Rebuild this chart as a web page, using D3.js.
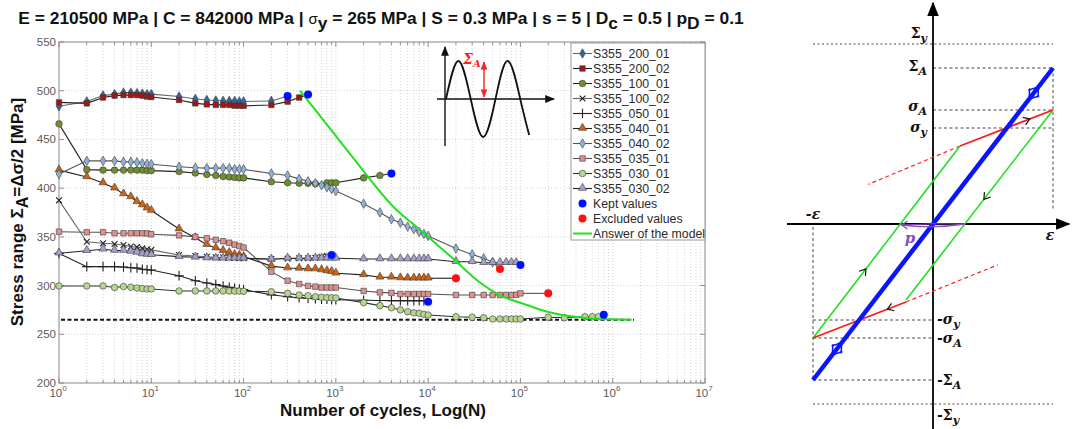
<!DOCTYPE html>
<html>
<head>
<meta charset="utf-8">
<script src="https://cdn.jsdelivr.net/npm/d3@7"></script>
<style>
  body { margin: 0; background: #fff; }
  svg { display: block; }
</style>
</head>
<body>
<div id="chart"></div>
<script>
const S355_200_01 = [[1,484],[2,489],[3,495],[4,496.5],[5,498],[6,498],[7,497.5],[8,497],[9,496.5],[10,496.5],[20,494],[30,491.5],[40,490.5],[50,490],[60,489.5],[70,489.5],[80,489.5],[90,489],[100,489],[200,489.5]];
const S355_200_02 = [[1,488],[2,487],[3,493],[4,495],[5,495.5],[6,495.5],[7,495.5],[8,495],[9,494],[10,493.5],[20,490.5],[30,487],[40,486],[50,485.5],[60,485.5],[70,485.5],[80,484.7],[90,484.7],[100,484.4],[200,485.4],[300,488.8],[400,493]];
const S355_100_01 = [[1,466],[2,419],[3,418.5],[4,418.5],[5,418.5],[6,418.5],[7,418.5],[8,418.5],[9,418],[10,418],[20,417],[30,415.5],[40,414],[50,413],[60,412],[70,411.5],[80,411],[90,410.5],[100,410.5],[200,406.5],[300,405.5],[400,405],[500,405],[600,404.5],[800,405.5],[900,405.5],[1000,405.5],[2000,410.5],[3000,413]];
const S355_100_02 = [[1,387.5],[2,345],[3,343.5],[4,342.7],[5,341.7],[6,340],[7,339.5],[8,338.3],[9,337.3],[10,336.6],[20,331.4],[30,330.4],[40,329.5],[50,329],[60,329],[70,328.5],[80,328.5],[90,328],[100,328],[200,327.3],[300,327.5],[400,328],[500,328],[600,328.5],[700,329.5],[800,330.5]];
const S355_050_01 = [[1,333],[2,319.4],[3,319.4],[4,319.4],[5,319],[6,318.3],[7,318],[8,316.7],[9,316.3],[10,316],[20,310],[30,305],[40,302.7],[50,301],[60,299.6],[70,298.3],[80,297.2],[90,296.5],[100,295.8],[200,290.5],[300,288.5],[400,287.5],[500,287],[600,286.5],[700,286],[800,286],[900,285.5],[1000,285.5],[2000,285],[3000,284.7],[4000,284.5],[5000,284.5],[6000,284.5],[7000,284.5],[8000,284.5],[9000,284.5]];
const S355_040_01 = [[1,418.5],[2,411.5],[3,405.3],[4,400],[5,394],[6,391],[7,386],[8,382.7],[9,379.5],[10,377],[20,358],[30,349],[40,342],[50,338.5],[60,335.8],[70,333.8],[80,331.7],[90,331],[100,329.7],[200,320],[300,318],[400,317.7],[500,317],[600,317],[700,316],[800,315],[900,314.3],[1000,312.6],[2000,311],[3000,308.5],[4000,308.5],[5000,307.8],[6000,307.5],[7000,307.5],[8000,307.5],[9000,307.5],[10000,307.5]];
const S355_040_02 = [[1,414.5],[2,428],[3,428],[4,428],[5,427],[6,427],[7,426.5],[8,425.5],[9,425],[10,424.5],[20,422],[30,421],[40,420.5],[50,420.5],[60,420.5],[70,420.5],[80,419.5],[90,419.5],[100,419.3],[200,415],[300,413],[400,409.5],[500,407],[600,405],[700,403],[800,401],[900,399],[1000,397],[2000,384],[3000,375],[4000,368],[5000,364.5],[6000,360.5],[7000,358],[8000,355],[9000,353],[10000,351],[20000,338],[30000,332],[40000,328],[50000,324]];
const S355_035_01 = [[1,355.3],[2,354.7],[3,354.7],[4,353.7],[5,353.7],[6,353.7],[7,353.7],[8,353.7],[9,353.5],[10,352.7],[20,351.5],[30,350],[40,348.5],[50,347],[60,345.5],[70,344],[80,342],[90,340.5],[100,339],[200,314.3],[300,305],[400,301.6],[500,299.6],[600,298.9],[700,298],[800,298],[900,298],[1000,298],[2000,294.5],[3000,293],[4000,292.5],[5000,291.4],[6000,291.4],[7000,291.4],[8000,291.4],[9000,291.4],[10000,291.4],[20000,290.3],[30000,290.3],[40000,290.3],[50000,290.3],[60000,290.3],[70000,290.3],[80000,290.3],[90000,290.5],[100000,292]];
const S355_030_01 = [[1,299.6],[2,299.6],[3,299.6],[4,298],[5,299],[6,298.3],[7,297.5],[8,297],[9,296.5],[10,296.5],[20,294.5],[30,294.5],[40,294.5],[50,294.5],[60,294.5],[70,294.5],[80,294.3],[90,294.3],[100,294.2],[200,293.7],[300,292],[400,290.3],[500,289.6],[600,288.5],[700,288],[800,287.5],[900,287.5],[1000,287.3],[2000,282.5],[3000,279.4],[4000,277.3],[5000,275],[6000,273.2],[7000,272],[8000,271.5],[9000,270.5],[10000,269.8],[20000,268],[30000,267.5],[40000,267],[50000,265.7],[60000,265.7],[70000,265.7],[80000,265.7],[90000,265.7],[100000,265.7],[200000,267.5],[300000,267],[500000,268],[600000,268],[700000,268]];
const S355_030_02 = [[1,333.2],[2,335.8],[3,337.3],[4,336],[5,336],[6,335],[7,334],[8,332.4],[9,332],[10,331.7],[20,329.7],[30,329],[40,328.3],[50,328],[60,328],[70,328],[80,328],[90,328],[100,328],[200,327],[300,328],[400,328],[500,328],[600,328],[700,328],[800,328],[900,328],[1000,328],[2000,327.3],[3000,327.3],[4000,327.3],[5000,327.3],[6000,327.3],[7000,327.3],[8000,327.3],[9000,327.3],[10000,327.3],[20000,324.5],[30000,324.5],[40000,323.5],[50000,323.5],[60000,323.5],[70000,323.5],[80000,323.5],[90000,323.5]];

const keptValues = [[300,494.5],[500,496],[900,331.4],[4000,415],[10000,283.5],[100000,321],[800000,270]];
const excludedValues = [[20000,307.5],[60000,317],[200000,292]];
const modelAnswer = [[410,500],[850,462],[1600,429],[4500,378],[8000,358],[12500,342],[19000,327],[35500,304],[57500,291],[123000,279.5],[155000,276],[275000,270],[427000,267.5],[646000,266],[1600000,265]];
const sigmaYield = 265;
const modelEnd = 1700000;

const yTicks = [200, 250, 300, 350, 400, 450, 500, 550];
const xDecades = [0, 1, 2, 3, 4, 5, 6, 7];

// hysteresis sketch (strain / stress in sketch units)
const epsMax = 1;
const sketchLevels = { SigY: 1.5, SigA: 1.3, sigA: 0.95, sigY: 0.8 };
const bluePath = [[-1, -1.3], [1, 1.3]];
const loopPath = [[0.225, 0.65], [1, 0.95], [-0.225, -0.633], [-1, -0.95], [0.225, 0.65]];
const redSolid = [[[0.225, 0.65], [1, 0.95]], [[-0.225, -0.65], [-1, -0.95]]];
const redDashed = [[[0.225, 0.65], [-0.54, 0.33]], [[-0.225, -0.65], [0.54, -0.34]]];
const wavePoints = [[0,0],[0.25,1],[0.5,0],[0.75,-1],[1,0],[1.25,1],[1.5,0],[1.68,-0.95]];

// --- styles
const series = [
  { name: "S355_200_01", data: S355_200_01, sym: "diamond", fill: "#2a68a8", line: "#666" },
  { name: "S355_200_02", data: S355_200_02, sym: "square", fill: "#a31515", line: "#222" },
  { name: "S355_100_01", data: S355_100_01, sym: "circle", fill: "#6f8f2f", line: "#222" },
  { name: "S355_100_02", data: S355_100_02, sym: "times", fill: "#222", line: "#666" },
  { name: "S355_050_01", data: S355_050_01, sym: "plus", fill: "#222", line: "#222" },
  { name: "S355_040_01", data: S355_040_01, sym: "triangle", fill: "#d0620f", line: "#222" },
  { name: "S355_040_02", data: S355_040_02, sym: "diamond", fill: "#8fb1d6", line: "#555" },
  { name: "S355_035_01", data: S355_035_01, sym: "square", fill: "#de9090", line: "#555" },
  { name: "S355_030_01", data: S355_030_01, sym: "circle", fill: "#b7d58f", line: "#333" },
  { name: "S355_030_02", data: S355_030_02, sym: "triangle", fill: "#a49fcc", line: "#222" }
];

const symbols = {
  diamond: [d3.symbolDiamond, 26], square: [d3.symbolSquare, 30], circle: [d3.symbolCircle, 34],
  triangle: [d3.symbolTriangle, 28], times: [d3.symbolTimes, 24], plus: [d3.symbolPlus, 32]
};

const W = 1072, H = 429;
const svg = d3.select("#chart").append("svg")
  .attr("width", W).attr("height", H)
  .style("font-family", "'Liberation Sans', Arial, sans-serif");

svg.append("rect").attr("width", W).attr("height", H).attr("fill", "#fff");

const x = d3.scaleLog().domain([1, 1e7]).range([59, 705]);
const y = d3.scaleLinear().domain([200, 550]).range([383, 42]);
const [x0, x1] = x.range(), [y0, y1] = y.range();

// grid
const grid = svg.append("g").attr("stroke", "#c9c9c9").attr("stroke-width", 0.8).attr("stroke-dasharray", "1,2");
const minorVals = [];
xDecades.slice(0, -1).forEach(d => { for (let m = 1; m <= 9; m++) minorVals.push(m * Math.pow(10, d)); });
minorVals.push(1e7);
grid.selectAll(".vx").data(minorVals.slice(1, -1)).join("line")
  .attr("x1", d => x(d)).attr("x2", d => x(d)).attr("y1", y1).attr("y2", y0);
grid.selectAll(".hy").data(yTicks.slice(1, -1)).join("line")
  .attr("x1", x0).attr("x2", x1).attr("y1", d => y(d)).attr("y2", d => y(d));

// ticks (inside, MATLAB style)
const ticks = svg.append("g").attr("stroke", "#777").attr("stroke-width", 0.8);
minorVals.forEach(v => {
  const major = Math.abs(Math.log10(v) - Math.round(Math.log10(v))) < 1e-9;
  const len = major ? 5 : 3;
  ticks.append("line").attr("x1", x(v)).attr("x2", x(v)).attr("y1", y0).attr("y2", y0 - len);
  ticks.append("line").attr("x1", x(v)).attr("x2", x(v)).attr("y1", y1).attr("y2", y1 + len);
});
yTicks.forEach(v => {
  ticks.append("line").attr("x1", x0).attr("x2", x0 + 5).attr("y1", y(v)).attr("y2", y(v));
  ticks.append("line").attr("x1", x1).attr("x2", x1 - 5).attr("y1", y(v)).attr("y2", y(v));
});

svg.append("rect").attr("x", x0).attr("y", y1).attr("width", x1 - x0).attr("height", y0 - y1)
  .attr("fill", "none").attr("stroke", "#888").attr("stroke-width", 1);

// tick labels
svg.append("g").selectAll("text").data(yTicks).join("text")
  .attr("x", x0 - 3).attr("y", d => y(d) + 4).attr("text-anchor", "end")
  .attr("font-size", 11.5).attr("fill", "#5a5a5a").text(d => d);
const xl = svg.append("g").selectAll("text").data(xDecades).join("text")
  .attr("x", d => x(Math.pow(10, d)) - 1).attr("y", 397).attr("text-anchor", "middle")
  .attr("font-size", 11.5).attr("fill", "#5a5a5a");
xl.append("tspan").text("10");
xl.append("tspan").attr("font-size", 8).attr("dy", -6).text(d => d);

// yield line
svg.append("line")
  .attr("x1", x(1) + 2).attr("x2", x(modelEnd)).attr("y1", y(sigmaYield)).attr("y2", y(sigmaYield))
  .attr("stroke", "#111").attr("stroke-width", 2).attr("stroke-dasharray", "4,2.5");

// series
const line = d3.line().x(d => x(d[0])).y(d => y(d[1]));
const sg = svg.append("g");
series.forEach(s => {
  sg.append("path").attr("d", line(s.data)).attr("fill", "none")
    .attr("stroke", s.line).attr("stroke-width", 1.1);
});
function marker(g, s, px, py) {
  const [type, size] = symbols[s.sym];
  const stroke = s.sym === "times" || s.sym === "plus";
  g.append("path").attr("d", d3.symbol().type(type).size(size)())
    .attr("transform", `translate(${px},${py})` + (s.sym === "triangle" ? " translate(0,-0.5)" : ""))
    .attr("fill", stroke ? "none" : s.fill)
    .attr("stroke", stroke ? s.fill : "#3a3a3a")
    .attr("stroke-width", stroke ? 1.1 : 0.6);
}
series.forEach(s => {
  s.data.forEach(d => marker(sg, s, x(d[0]), y(d[1])));
});
// last point of each test joins its kept / excluded dot
const ends = [["S355_200_01", keptValues[0]], ["S355_200_02", keptValues[1]], ["S355_100_02", keptValues[2]],
  ["S355_100_01", keptValues[3]], ["S355_050_01", keptValues[4]], ["S355_030_02", keptValues[5]],
  ["S355_030_01", keptValues[6]], ["S355_040_01", excludedValues[0]], ["S355_040_02", excludedValues[1]],
  ["S355_035_01", excludedValues[2]]];
ends.forEach(([n, p]) => {
  const s = series.find(d => d.name === n);
  const last = s.data[s.data.length - 1];
  sg.insert("path", ":first-child").attr("d", line([last, p])).attr("fill", "none")
    .attr("stroke", s.line).attr("stroke-width", 1.1);
});

// model answer
svg.append("path").attr("d", d3.line().curve(d3.curveMonotoneX).x(d => x(d[0])).y(d => y(d[1]))(modelAnswer))
  .attr("fill", "none").attr("stroke", "#22e022").attr("stroke-width", 2);

svg.append("g").selectAll("circle").data(keptValues).join("circle")
  .attr("cx", d => x(d[0])).attr("cy", d => y(d[1])).attr("r", 4).attr("fill", "#0010ff");
svg.append("g").selectAll("circle").data(excludedValues).join("circle")
  .attr("cx", d => x(d[0])).attr("cy", d => y(d[1])).attr("r", 4).attr("fill", "#ff1010");

// inset sine icon
const inset = svg.append("g");
const ix = d3.scaleLinear().domain([0, 1]).range([446, 495.5]);
const iy = d3.scaleLinear().domain([-1, 1]).range([137, 61]);
svg.append("defs").html(`
  <marker id="ah" viewBox="0 0 10 10" refX="9" refY="5" markerWidth="7" markerHeight="7" orient="auto-start-reverse">
    <path d="M0,1 L10,5 L0,9 z" fill="#111"/></marker>
  <marker id="ahr" viewBox="0 0 10 10" refX="9" refY="5" markerWidth="6" markerHeight="6" orient="auto-start-reverse">
    <path d="M0,1 L10,5 L0,9 z" fill="#ff2020"/></marker>
  <marker id="ahk" viewBox="0 0 10 10" refX="9" refY="5" markerWidth="8" markerHeight="8" orient="auto">
    <path d="M0,1 L10,5 L0,9 z" fill="#000"/></marker>`);
inset.append("line").attr("x1", 445).attr("x2", 445).attr("y1", 146).attr("y2", 47)
  .attr("stroke", "#111").attr("stroke-width", 1.4).attr("marker-end", "url(#ah)");
inset.append("line").attr("x1", 437).attr("x2", 554).attr("y1", iy(0)).attr("y2", iy(0))
  .attr("stroke", "#111").attr("stroke-width", 1.4).attr("marker-end", "url(#ah)");
inset.append("path").attr("d", d3.line().curve(d3.curveNatural).x(d => ix(d[0])).y(d => iy(d[1]))(wavePoints))
  .attr("fill", "none").attr("stroke", "#111").attr("stroke-width", 1.8);
inset.append("line").attr("x1", 484).attr("x2", 484).attr("y1", iy(0) - 2).attr("y2", 62)
  .attr("stroke", "#ff2020").attr("stroke-width", 1.4)
  .attr("marker-start", "url(#ahr)").attr("marker-end", "url(#ahr)");
const sa = inset.append("text").attr("x", 463).attr("y", 64).attr("fill", "#ff2020")
  .attr("font-family", "'DejaVu Serif', serif").attr("font-weight", "bold").attr("font-style", "italic").attr("font-size", 14);
sa.append("tspan").text("Σ");
sa.append("tspan").attr("font-size", 10).attr("dy", 3).text("A");

// legend
const lg = svg.append("g").attr("transform", "translate(571,43)");
lg.append("rect").attr("width", 134).attr("height", 197).attr("fill", "#fff").attr("stroke", "#999");
const entries = series.map(s => ({ label: s.name, s }))
  .concat([{ label: "Kept values", dot: "#0010ff" }, { label: "Excluded values", dot: "#ff1010" },
           { label: "Answer of the model", green: true }]);
entries.forEach((e, i) => {
  const cy = 10.5 + i * 15;
  if (e.s) {
    lg.append("line").attr("x1", 2).attr("x2", 21).attr("y1", cy).attr("y2", cy)
      .attr("stroke", e.s.line).attr("stroke-width", 1.1);
    marker(lg, e.s, 11.5, cy);
  } else if (e.dot) {
    lg.append("circle").attr("cx", 11.5).attr("cy", cy).attr("r", 4).attr("fill", e.dot);
  } else {
    lg.append("line").attr("x1", 2).attr("x2", 21).attr("y1", cy).attr("y2", cy)
      .attr("stroke", "#22e022").attr("stroke-width", 2);
  }
  lg.append("text").attr("x", 22).attr("y", cy + 4.3).attr("font-size", 12.3).attr("fill", "#2a2a2a").text(e.label);
});

// titles
const title = svg.append("text").attr("x", 381).attr("y", 24).attr("text-anchor", "middle")
  .attr("font-weight", "bold").attr("font-size", 17.4).attr("fill", "#111");
[["E = 210500 MPa | C = 842000 MPa | ", 0], ["σ", 0, 15, "normal"], ["y", 5], [" = 265 MPa | S = 0.3 MPa | s = 5 | D", -5],
 ["c", 5], [" = 0.5 | p", -5], ["D", 5], [" = 0.1", -5]].forEach(([t, dy, fs, fw]) => {
  const ts = title.append("tspan").attr("dy", dy).text(t);
  if (fs) ts.attr("font-size", fs);
  if (fw) ts.attr("font-weight", fw);
});

const yl = svg.append("text").attr("transform", "translate(23,212) rotate(-90)").attr("text-anchor", "middle")
  .attr("font-weight", "bold").attr("font-size", 17).attr("fill", "#111");
yl.append("tspan").text("Stress range Σ");
yl.append("tspan").attr("dy", 5).attr("font-size", 16).text("A");
yl.append("tspan").attr("dy", -5).text("=Δσ/2 [MPa]");

svg.append("text").attr("x", 383).attr("y", 416).attr("text-anchor", "middle")
  .attr("font-weight", "bold").attr("font-size", 17).attr("fill", "#111").text("Number of cycles, Log(N)");

// --- hysteresis sketch on the right
const hx = d3.scaleLinear().domain([-epsMax, epsMax]).range([813, 1053]);
const hy = d3.scaleLinear().domain([-1, 1]).range([344, 104]);
const hg = svg.append("g");
const serif = "'DejaVu Serif', 'Liberation Serif', serif";

function dashed(xa, ya, xb, yb, dash) {
  hg.append("line").attr("x1", xa).attr("y1", ya).attr("x2", xb).attr("y2", yb)
    .attr("stroke", "#333").attr("stroke-width", 0.9).attr("stroke-dasharray", dash || "3,2.5");
}
dashed(hx(-1), hy(sketchLevels.SigY), hx(1), hy(sketchLevels.SigY), "2,2.5");
dashed(hx(-1), hy(-sketchLevels.SigY), hx(1), hy(-sketchLevels.SigY), "2,2.5");
[sketchLevels.SigA, sketchLevels.sigA, sketchLevels.sigY].forEach(v => dashed(hx(0), hy(v), hx(1), hy(v)));
[sketchLevels.SigA, sketchLevels.sigA, sketchLevels.sigY].forEach(v => dashed(hx(-1), hy(-v), hx(0), hy(-v)));
dashed(hx(1), hy(sketchLevels.SigA), hx(1), hy(0) - 14);
dashed(hx(-1), hy(0) + 3, hx(-1), hy(-sketchLevels.SigA));

// axes
hg.append("line").attr("x1", 787).attr("x2", 1069).attr("y1", hy(0)).attr("y2", hy(0))
  .attr("stroke", "#000").attr("stroke-width", 1.8).attr("marker-end", "url(#ahk)");
hg.append("line").attr("x1", hx(0)).attr("x2", hx(0)).attr("y1", 429).attr("y2", 3)
  .attr("stroke", "#000").attr("stroke-width", 1.8).attr("marker-end", "url(#ahk)");

const hl = d3.line().x(d => hx(d[0])).y(d => hy(d[1]));
redDashed.forEach(seg => hg.append("path").attr("d", hl(seg)).attr("stroke", "#ff2020")
  .attr("stroke-width", 1.2).attr("stroke-dasharray", "4,3").attr("fill", "none"));
hg.append("path").attr("d", hl([loopPath[1], loopPath[2]])).attr("stroke", "#22e022").attr("stroke-width", 1.6).attr("fill", "none");
hg.append("path").attr("d", hl([loopPath[3], loopPath[4]])).attr("stroke", "#22e022").attr("stroke-width", 1.6).attr("fill", "none");
redSolid.forEach(seg => hg.append("path").attr("d", hl(seg)).attr("stroke", "#ff1a1a")
  .attr("stroke-width", 1.8).attr("fill", "none"));
hg.append("path").attr("d", hl(bluePath)).attr("stroke", "#0a14ff").attr("stroke-width", 4.5).attr("fill", "none");

// plastic strain arrow
const pL = hx(-0.262), pR = hx(0.262), p0 = hy(0);
hg.append("path").attr("d", `M${pR},${p0} Q${(pL + pR) / 2},${p0 + 5} ${pL},${p0 + 1}`)
  .attr("fill", "none").attr("stroke", "#8a4fc0").attr("stroke-width", 1.3);
hg.append("path").attr("d", `M${pR},${p0} Q${(pL + pR) / 2},${p0 - 1} ${pL},${p0 + 1}`)
  .attr("fill", "none").attr("stroke", "#8a4fc0").attr("stroke-width", 1);
hg.append("path").attr("d", `M${pL + 6},${p0 - 3} L${pL},${p0 + 1} L${pL + 6},${p0 + 5}`)
  .attr("fill", "none").attr("stroke", "#8a4fc0").attr("stroke-width", 1.2);

function chevron(a, b, t, color, w, s) {
  const xa = hx(a[0]), ya = hy(a[1]), xb = hx(b[0]), yb = hy(b[1]);
  const px = xa + (xb - xa) * t, py = ya + (yb - ya) * t;
  const ang = Math.atan2(yb - ya, xb - xa) * 180 / Math.PI;
  const k = s || 1;
  hg.append("path").attr("d", `M${-6 * k},${-4 * k} L0,0 L${-6 * k},${4 * k}`)
    .attr("transform", `translate(${px},${py}) rotate(${ang})`)
    .attr("fill", "none").attr("stroke", color).attr("stroke-width", w || 1.2);
}
chevron(redSolid[0][0], redSolid[0][1], 0.75, "#111");
chevron(loopPath[1], loopPath[2], 0.47, "#111");
chevron(redSolid[1][0], redSolid[1][1], 0.2, "#111");
chevron(loopPath[3], loopPath[4], 0.36, "#111");
chevron(bluePath[0], bluePath[1], 0.94, "#0a14ff", 1.5, 1.5);
chevron(bluePath[1], bluePath[0], 0.10, "#0a14ff", 1.5, 1.5);
chevron(bluePath[0], bluePath[1], 0.12, "#0a14ff", 1.5, 1.5);
chevron(bluePath[1], bluePath[0], 0.92, "#0a14ff", 1.5, 1.5);

function label(xp, yp, main, sub, anchor, italicMain) {
  const t = hg.append("text").attr("x", xp).attr("y", yp).attr("text-anchor", anchor)
    .attr("font-family", serif).attr("font-weight", "bold").attr("font-size", 14).attr("fill", "#111");
  t.append("tspan").attr("font-style", italicMain ? "italic" : "normal").text(main);
  if (sub) t.append("tspan").attr("font-style", "italic").attr("font-size", 11).attr("dy", 4).text(sub);
}
label(927, hy(sketchLevels.SigY) - 6, "Σ", "y", "end", false);
label(927, hy(sketchLevels.SigA) + 3, "Σ", "A", "end", false);
label(927, hy(sketchLevels.sigA) + 1, "σ", "A", "end", true);
label(927, hy(sketchLevels.sigY) + 4, "σ", "y", "end", true);
label(937, hy(-sketchLevels.sigY) + 4, "-σ", "y", "start", true);
label(937, hy(-sketchLevels.sigA) + 5, "-σ", "A", "start", true);
label(937, hy(-sketchLevels.SigA) + 5, "-Σ", "A", "start", false);
label(937, hy(-sketchLevels.SigY) + 16, "-Σ", "y", "start", false);
label(hx(-1), hy(0) - 5, "-ε", null, "middle", true);
label(hx(1) - 3, hy(0) + 16, "ε", null, "middle", true);
hg.append("text").attr("x", 910).attr("y", 243).attr("text-anchor", "middle")
  .attr("font-family", serif).attr("font-weight", "bold").attr("font-style", "italic")
  .attr("font-size", 15).attr("fill", "#8a4fc0").text("p");
</script>
</body>
</html>
